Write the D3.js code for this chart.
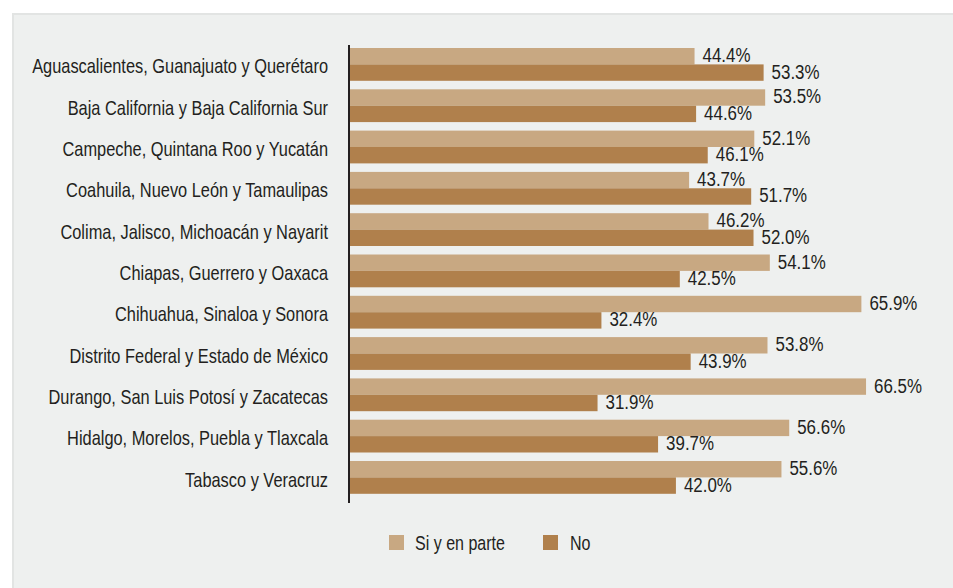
<!DOCTYPE html>
<html><head><meta charset="utf-8">
<script src="https://cdn.jsdelivr.net/npm/d3@7"></script>
<style>
html,body{margin:0;padding:0;background:#fff;}
svg{display:block;}
text{font-family:"Liberation Sans",Arial,sans-serif;fill:#231f20;}
</style></head>
<body>
<svg id="c" width="953" height="588"></svg>
<script>
const categories = [
  "Aguascalientes, Guanajuato y Querétaro",
  "Baja California y Baja California Sur",
  "Campeche, Quintana Roo y Yucatán",
  "Coahuila, Nuevo León y Tamaulipas",
  "Colima, Jalisco, Michoacán y Nayarit",
  "Chiapas, Guerrero y Oaxaca",
  "Chihuahua, Sinaloa y Sonora",
  "Distrito Federal y Estado de México",
  "Durango, San Luis Potosí y Zacatecas",
  "Hidalgo, Morelos, Puebla y Tlaxcala",
  "Tabasco y Veracruz"
];
const siValues = [44.4, 53.5, 52.1, 43.7, 46.2, 54.1, 65.9, 53.8, 66.5, 56.6, 55.6];
const noValues = [53.3, 44.6, 46.1, 51.7, 52.0, 42.5, 32.4, 43.9, 31.9, 39.7, 42.0];
const seriesNames = ["Si y en parte", "No"];
const seriesColors = ["#c8a882", "#b0804c"];

const FS = 20.5;
const svg = d3.select("#c");

// measure to emulate a condensed face by horizontal scaling
function measure(str) {
  const t = svg.append("text").attr("font-size", FS).text(str);
  const w = t.node().getComputedTextLength();
  t.remove();
  return w;
}
const sxCat = 296 / measure(categories[0]);
const sxVal = 48 / measure("44.4%");
const sxLeg = 90 / measure(seriesNames[0]);

// panel
svg.append("rect").attr("x", 12).attr("y", 13).attr("width", 953 - 12).attr("height", 588 - 13)
  .attr("fill", "#eef0ef");
svg.append("rect").attr("x", 12).attr("y", 13).attr("width", 953 - 12).attr("height", 2).attr("fill", "#e2e4e3");
svg.append("rect").attr("x", 12).attr("y", 13).attr("width", 2).attr("height", 588 - 13).attr("fill", "#e2e4e3");

const x = d3.scaleLinear().domain([0, 70]).range([350, 350 + 70 * 7.76]);
const y = d3.scaleBand().domain(categories).range([48, 493.8]).paddingInner(0.206).paddingOuter(0);
const sub = d3.scaleBand().domain(seriesNames).range([0, y.bandwidth()]);

const data = categories.map((c, i) => ({cat: c, vals: [siValues[i], noValues[i]]}));

const groups = svg.append("g").selectAll("g.grp").data(data).join("g").attr("class", "grp")
  .attr("transform", d => `translate(0,${y(d.cat)})`);

groups.selectAll("rect").data(d => d.vals.map((v, j) => ({v, j})))
  .join("rect")
  .attr("x", x(0))
  .attr("y", d => sub(seriesNames[d.j]))
  .attr("width", d => x(d.v) - x(0))
  .attr("height", sub.bandwidth())
  .attr("fill", d => seriesColors[d.j]);

groups.selectAll("text.val").data(d => d.vals.map((v, j) => ({v, j})))
  .join("text").attr("class", "val")
  .attr("transform", d => `translate(${x(d.v) + 8},${sub(seriesNames[d.j]) + sub.bandwidth() / 2 - 1.4 + 0.358 * FS}) scale(${sxVal},1)`)
  .attr("font-size", FS)
  .text(d => d.v.toFixed(1) + "%");

// category labels via axis
const yAxis = d3.axisLeft(y).tickSize(0).tickPadding(0);
const ax = svg.append("g").attr("transform", `translate(${x(0) - 22},0)`).call(yAxis);
ax.select(".domain").remove();
ax.selectAll(".tick text")
  .attr("x", null).attr("dy", null)
  .attr("transform", `translate(0,${9.1}) scale(${sxCat},1)`)
  .attr("font-size", FS).attr("fill", "#231f20")
  .style("font-family", '"Liberation Sans",Arial,sans-serif');
svg.append("line").attr("x1", x(0) - 1).attr("x2", x(0) - 1).attr("y1", 45).attr("y2", 503)
  .attr("stroke", "#231f20").attr("stroke-width", 2);

// legend
const legX = [389, 543];
const leg = svg.append("g").selectAll("g").data(seriesNames).join("g")
  .attr("transform", (d, i) => `translate(${legX[i]},535)`);
leg.append("rect").attr("width", 15).attr("height", 15).attr("fill", (d, i) => seriesColors[i]);
leg.append("text")
  .attr("transform", (d, i) => `translate(${i === 0 ? 26 : 27},15) scale(${sxLeg},1)`)
  .attr("font-size", FS).text(d => d);
</script>
</body></html>
